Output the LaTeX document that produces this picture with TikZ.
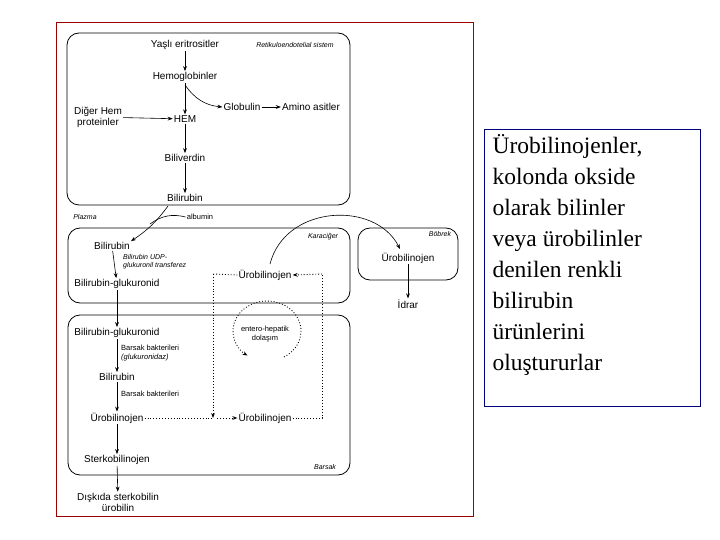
\documentclass[tikz,border=0pt]{standalone}
\usepackage{fontspec}
\setmainfont{Liberation Sans}
\newfontfamily\serif{Liberation Serif}
\usetikzlibrary{arrows.meta}
\begin{document}
\begin{tikzpicture}[x=1pt,y=-1pt,
  t/.style={font=\fontsize{10}{11}\selectfont,inner sep=1pt},
  s/.style={font=\fontsize{7}{8}\selectfont\itshape,inner sep=1pt},
  bx/.style={draw,rounded corners=12pt,line width=0.8pt},
  ar/.style={-{Stealth[length=5pt]},line width=0.6pt},
  dt/.style={dotted,line width=0.9pt}]
\useasboundingbox (0,0) rectangle (720,540);
\draw[red!60!black,line width=0.8pt] (56,22) rectangle (473,516);
\draw[blue!50!black,line width=0.6pt] (484,129) rectangle (700,406);
\node[align=left,anchor=north west,font=\serif\fontsize{23.5}{31}\selectfont] (txt) at (489,131)
 {Ürobilinojenler,\\kolonda okside\\olarak bilinler\\veya ürobilinler\\denilen renkli\\bilirubin\\ürünlerini\\oluştururlar};
% boxes
\draw[bx] (67,33) rectangle (350,205);
\draw[bx] (68,228) rectangle (350,303);
\draw[bx] (358,228) rectangle (458,280);
\draw[bx] (68,315) rectangle (350,475);
% box 1
\node[t] (ye) at (185,45) {Yaşlı eritrositler};
\node[s] (re) at (295,45) {Retikuloendotelial sistem};
\node[t] (hb) at (185,77) {Hemoglobinler};
\node[t] (gl) at (242,107) {Globulin};
\node[t] (aa) at (311,107) {Amino asitler};
\node[t,align=center] (dh) at (98,117) {Diğer Hem\\proteinler};
\node[t] (hem) at (185,119) {HEM};
\node[t] (bv) at (185,158) {Biliverdin};
\node[t] (br) at (185,198) {Bilirubin};
\draw[ar] (ye) -- (hb);
\draw[ar] (hb) -- (hem);
\draw[ar] (hb.south)++(0,2) to[bend right=25] (gl.west);
\draw[ar] (gl) -- (aa);
\draw[ar] (dh) -- (hem);
\draw[ar] (hem) -- (bv);
\draw[ar] (bv) -- (br);
\node[s] (pl) at (85,217) {Plazma};
\node[t,font=\fontsize{7.5}{8}\selectfont] (al) at (200,217) {albumin};
\coordinate (bs) at (168,206);
\draw[line width=0.6pt] (150,224) to[bend left=25] (al.west);
% box 2
\node[t] (b2) at (112,246) {Bilirubin};
\node[s,align=left,anchor=west] (udp) at (122,262) {Bilirubin UDP-\\glukuronil transferez};
\node[t] (bg1) at (117,284) {Bilirubin-glukuronid};
\node[s] (ka) at (323,237) {Karaciğer};
\node[t] (u1) at (265,275) {Ürobilinojen};
\draw[ar] (bs) to[bend left=10] (b2.north east);
\draw[ar] (b2) -- (bg1);
\node[s] (bo) at (440,234) {Böbrek};
\node[t] (u2) at (408,258) {Ürobilinojen};
\node[t] (id) at (408,304) {İdrar};
\draw[ar] (u2) -- (id);
\draw[ar] (270,264) .. controls (285,205) and (375,200) .. (400,249);
% box 3
\node[t] (bg2) at (117,333) {Bilirubin-glukuronid};
\node[t,font=\fontsize{7.5}{9}\selectfont,align=left,anchor=west] (bb1) at (120,353) {Barsak bakterileri\\\textit{(glukuronidaz)}};
\node[t] (b3) at (117,377) {Bilirubin};
\node[t,font=\fontsize{7.5}{8}\selectfont,anchor=west] (bb2) at (120,394) {Barsak bakterileri};
\node[t] (u3) at (117,418) {Ürobilinojen};
\node[t] (u4) at (265,418) {Ürobilinojen};
\node[t] (st) at (117,460) {Sterkobilinojen};
\node[s] (ba) at (325,467) {Barsak};
\node[t,align=center] (dk) at (118,502) {Dışkıda sterkobilin\\ürobilin};
\node[t,font=\fontsize{7.5}{9}\selectfont,align=center] (eh) at (265,334) {entero-hepatik\\dolaşım};
\draw[ar] (bg1) -- (bg2);
\draw[ar] (bg2) -- (b3);
\draw[ar] (b3) -- (u3);
\draw[ar] (u3) -- (st);
\draw[ar] (st) -- (dk);
% dotted
\coordinate (tl) at (213,274);
\coordinate (bl) at (213,418);
\coordinate (tr) at (322,274);
\coordinate (brr) at (322,418);
\draw[dt] (u1.west) -- (tl);
\draw[dt,-{Stealth[length=5pt]}] (tl) -- (bl);
\draw[dt] (u3.east) -- (bl);
\draw[dt,-{Stealth[length=5pt]}] (bl)++(4,0) -- (u4.west);
\draw[dt] (u4.east) -- (brr) -- (tr);
\draw[dt,-{Stealth[length=5pt]}] (tr) -- (u1.east);
\draw[dt,-{Stealth[length=5pt]}] (284,357) arc[start angle=60,end angle=-235,x radius=34,y radius=30];
\end{tikzpicture}
\end{document}
